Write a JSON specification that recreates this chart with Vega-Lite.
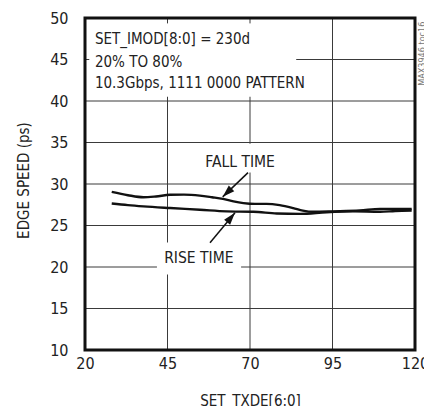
{
  "$schema": "https://vega.github.io/schema/vega-lite/v6.json",
  "width": 330,
  "height": 332,
  "autosize": {"type": "none"},
  "padding": {"left": 85, "top": 18, "right": 9, "bottom": 56},
  "background": "white",
  "config": {
    "view": {"stroke": null},
    "font": "DejaVu Sans Condensed, Liberation Sans, sans-serif",
    "axis": {"labelFont": "DejaVu Sans Condensed, Liberation Sans, sans-serif", "titleFont": "DejaVu Sans Condensed, Liberation Sans, sans-serif", "labelColor": "#222", "titleColor": "#222", "titleFontWeight": "normal"}
  },
  "datasets": {
    "curves": [
      {"series": "FALL", "x": 28.1, "y": 29.05},
      {"series": "FALL", "x": 33, "y": 28.65},
      {"series": "FALL", "x": 37.7, "y": 28.4},
      {"series": "FALL", "x": 41.5, "y": 28.5},
      {"series": "FALL", "x": 45.8, "y": 28.7},
      {"series": "FALL", "x": 50, "y": 28.72},
      {"series": "FALL", "x": 54.8, "y": 28.6},
      {"series": "FALL", "x": 58.5, "y": 28.4},
      {"series": "FALL", "x": 61.8, "y": 28.2},
      {"series": "FALL", "x": 65, "y": 27.9},
      {"series": "FALL", "x": 68, "y": 27.7},
      {"series": "FALL", "x": 71.5, "y": 27.6},
      {"series": "FALL", "x": 75, "y": 27.6},
      {"series": "FALL", "x": 79, "y": 27.45},
      {"series": "FALL", "x": 83.1, "y": 27.1},
      {"series": "FALL", "x": 86, "y": 26.8},
      {"series": "FALL", "x": 89.2, "y": 26.65},
      {"series": "FALL", "x": 95.2, "y": 26.7},
      {"series": "FALL", "x": 103.3, "y": 26.8},
      {"series": "FALL", "x": 109.4, "y": 27.0},
      {"series": "FALL", "x": 114, "y": 27.0},
      {"series": "FALL", "x": 119, "y": 27.0},
      {"series": "RISE", "x": 28.1, "y": 27.65},
      {"series": "RISE", "x": 33, "y": 27.45},
      {"series": "RISE", "x": 37.7, "y": 27.3},
      {"series": "RISE", "x": 45.8, "y": 27.1},
      {"series": "RISE", "x": 54.8, "y": 26.9},
      {"series": "RISE", "x": 62.9, "y": 26.7},
      {"series": "RISE", "x": 71, "y": 26.65},
      {"series": "RISE", "x": 78.1, "y": 26.45},
      {"series": "RISE", "x": 85.2, "y": 26.4},
      {"series": "RISE", "x": 93.2, "y": 26.6},
      {"series": "RISE", "x": 101.2, "y": 26.7},
      {"series": "RISE", "x": 109.4, "y": 26.65},
      {"series": "RISE", "x": 114, "y": 26.75},
      {"series": "RISE", "x": 119, "y": 26.8}
    ],
    "grid": [
      {"x": 45, "x2": 45, "y": 10, "y2": 50},
      {"x": 70, "x2": 70, "y": 10, "y2": 50},
      {"x": 95, "x2": 95, "y": 10, "y2": 50},
      {"x": 20, "x2": 120, "y": 15, "y2": 15},
      {"x": 20, "x2": 120, "y": 20, "y2": 20},
      {"x": 20, "x2": 120, "y": 25, "y2": 25},
      {"x": 20, "x2": 120, "y": 30, "y2": 30},
      {"x": 20, "x2": 120, "y": 35, "y2": 35},
      {"x": 20, "x2": 120, "y": 40, "y2": 40},
      {"x": 20, "x2": 120, "y": 45, "y2": 45}
    ],
    "boxes": [
      {"x": 20, "x2": 84, "y": 40.5, "y2": 50},
      {"x": 54.8, "x2": 79.7, "y": 31.4, "y2": 34.85},
      {"x": 41.8, "x2": 67.3, "y": 19.1, "y2": 22.96}
    ],
    "smallticks": [
      {"x": 45, "x2": 45, "y": 50, "y2": 49.35},
      {"x": 70, "x2": 70, "y": 50, "y2": 49.35},
      {"x": 20, "x2": 21.3, "y": 45, "y2": 45}
    ],
    "frame": [{"x": 20, "x2": 120, "y": 10, "y2": 50}],
    "notes": [
      {"x": 23, "y": 46.9, "text": "SET_IMOD[8:0] = 230d"},
      {"x": 23, "y": 44.1, "text": "20% TO 80%"},
      {"x": 23, "y": 41.55, "text": "10.3Gbps, 1111 0000 PATTERN"}
    ],
    "labels": [
      {"x": 67.0, "y": 32.1, "text": "FALL TIME"},
      {"x": 54.5, "y": 20.43, "text": "RISE TIME"}
    ],
    "arrows": [
      {"name": "FALL", "x": 69.4, "y": 31.37, "x2": 61.73, "y2": 28.45},
      {"name": "RISE", "x": 57.88, "y": 22.92, "x2": 65.45, "y2": 26.53}
    ],
    "side": [{"x": 122.1, "y": 45.7, "text": "MAX3946 toc16"}]
  },
  "encoding": {
    "x": {
      "field": "x", "type": "quantitative",
      "scale": {"domain": [20, 120], "nice": false, "zero": false},
      "axis": {"values": [20, 45, 70, 95, 120], "grid": false, "ticks": false, "domain": false, "labelFontSize": 16, "labelPadding": 5, "labelFlush": false, "labelOverlap": false, "labelBound": false, "title": "SET_TXDE[6:0]", "titleFontSize": 15, "titleY": 55, "titleBaseline": "alphabetic"}
    },
    "y": {
      "field": "y", "type": "quantitative",
      "scale": {"domain": [10, 50], "nice": false, "zero": false},
      "axis": {"values": [10, 15, 20, 25, 30, 35, 40, 45, 50], "grid": false, "ticks": false, "domain": false, "labelFontSize": 16, "labelPadding": 17, "labelFlush": false, "labelOverlap": false, "title": "EDGE SPEED (ps)", "titleFontSize": 15, "titleX": -62, "titleY": 162, "titleBaseline": "middle", "titleAngle": 270}
    }
  },
  "layer": [
    {
      "data": {"name": "grid"},
      "mark": {"type": "rule", "color": "#3a3a3a", "strokeWidth": 1},
      "encoding": {"x2": {"field": "x2"}, "y2": {"field": "y2"}}
    },
    {
      "data": {"name": "boxes"},
      "mark": {"type": "rect", "fill": "white"},
      "encoding": {"x2": {"field": "x2"}, "y2": {"field": "y2"}}
    },
    {
      "data": {"name": "smallticks"},
      "mark": {"type": "rule", "color": "#3a3a3a", "strokeWidth": 1},
      "encoding": {"x2": {"field": "x2"}, "y2": {"field": "y2"}}
    },
    {
      "data": {"name": "curves"},
      "mark": {"type": "line", "color": "#111", "strokeWidth": 2.4, "interpolate": "monotone"},
      "encoding": {"detail": {"field": "series"}}
    },
    {
      "data": {"name": "arrows"},
      "mark": {"type": "rule", "color": "#111", "strokeWidth": 1.5},
      "encoding": {"x2": {"field": "x2"}, "y2": {"field": "y2"}}
    },
    {
      "data": {"name": "arrows"},
      "transform": [{"filter": "datum.name === 'FALL'"}],
      "mark": {"type": "point", "filled": true, "color": "#111", "opacity": 1, "size": 600, "angle": 226, "shape": "M0,0 L0.32,1 L-0.32,1 Z"},
      "encoding": {"x": {"field": "x2", "type": "quantitative"}, "y": {"field": "y2", "type": "quantitative"}}
    },
    {
      "data": {"name": "arrows"},
      "transform": [{"filter": "datum.name === 'RISE'"}],
      "mark": {"type": "point", "filled": true, "color": "#111", "opacity": 1, "size": 600, "angle": 40, "shape": "M0,0 L0.32,1 L-0.32,1 Z"},
      "encoding": {"x": {"field": "x2", "type": "quantitative"}, "y": {"field": "y2", "type": "quantitative"}}
    },
    {
      "data": {"name": "notes"},
      "mark": {"type": "text", "align": "left", "baseline": "alphabetic", "fontSize": 15, "color": "#222"},
      "encoding": {"text": {"field": "text"}}
    },
    {
      "data": {"name": "labels"},
      "mark": {"type": "text", "align": "center", "baseline": "alphabetic", "fontSize": 15.5, "color": "#222"},
      "encoding": {"text": {"field": "text"}}
    },
    {
      "data": {"name": "side"},
      "mark": {"type": "text", "align": "center", "baseline": "middle", "fontSize": 9, "angle": 270, "color": "#777", "clip": false},
      "encoding": {"text": {"field": "text"}}
    },
    {
      "data": {"name": "frame"},
      "mark": {"type": "rect", "fill": null, "fillOpacity": 0, "stroke": "#111", "strokeWidth": 3},
      "encoding": {"x2": {"field": "x2"}, "y2": {"field": "y2"}}
    }
  ]
}
